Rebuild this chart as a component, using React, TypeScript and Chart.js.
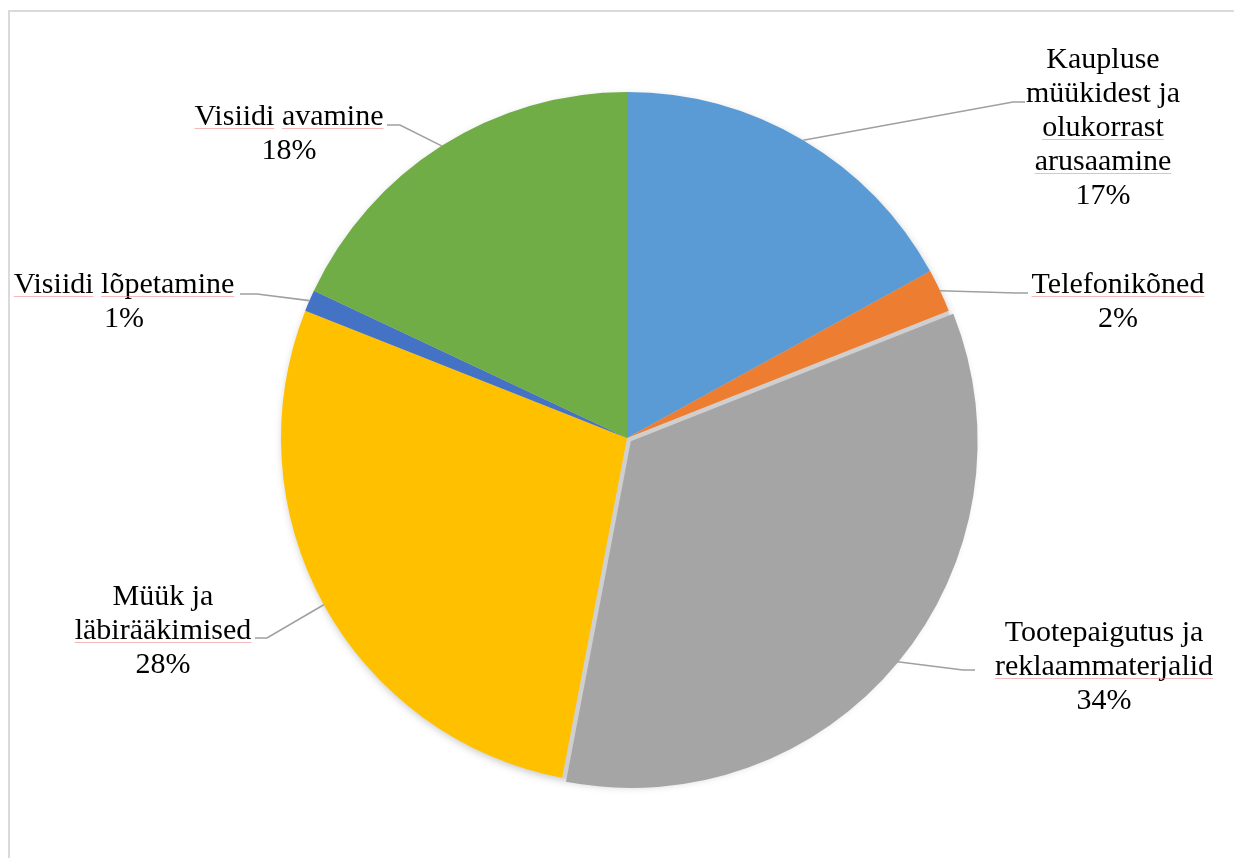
import React, { useEffect, useRef } from "react";
import { Chart, registerables } from "chart.js";

Chart.register(...registerables);

const categories = [
  "Kaupluse müükidest ja olukorrast arusaamine",
  "Telefonikõned",
  "Tootepaigutus ja reklaammaterjalid",
  "Müük ja läbirääkimised",
  "Visiidi lõpetamine",
  "Visiidi avamine",
];
const values = [17, 2, 34, 28, 1, 18];
const percentLabels = ["17%", "2%", "34%", "28%", "1%", "18%"];
const labelLines = [
  ["Kaupluse", "müükidest ja", "olukorrast", "arusaamine"],
  ["Telefonikõned"],
  ["Tootepaigutus ja", "reklaammaterjalid"],
  ["Müük ja", "läbirääkimised"],
  ["Visiidi lõpetamine"],
  ["Visiidi avamine"],
];
const colors = ["#5B9BD5", "#ED7D31", "#A5A5A5", "#FFC000", "#4472C4", "#70AD47"];
const underlinedWords = new Set([
  "olukorrast",
  "arusaamine",
  "Telefonikõned",
  "reklaammaterjalid",
  "läbirääkimised",
  "Visiidi",
  "lõpetamine",
  "avamine",
]);

// label layout: text centre x, first baseline y, leader elbow and end
const labelLayout = [
  { cx: 1103, by: 68, ex: 1013, ey: 102, tx: 1025, ty: 102 },
  { cx: 1118, by: 293, ex: 1016, ey: 293, tx: 1028, ty: 293 },
  { cx: 1104, by: 641, ex: 963, ey: 670, tx: 975, ty: 670 },
  { cx: 163, by: 605, ex: 267, ey: 638, tx: 255, ty: 638 },
  { cx: 124, by: 293, ex: 257, ey: 294, tx: 240, ty: 294 },
  { cx: 289, by: 125, ex: 400, ey: 125, tx: 387, ty: 125 },
];
const LINE_H = 34;
const FONT = '30px "Liberation Serif", "Times New Roman", serif';

const shadowPlugin = {
  id: "pieShadow",
  beforeDatasetsDraw(chart: any) {
    const arc = chart.getDatasetMeta(0).data[0];
    if (!arc) return;
    const { x, y, outerRadius } = arc.getProps(["x", "y", "outerRadius"], true);
    const ctx = chart.ctx;
    ctx.save();
    ctx.shadowColor = "rgba(0,0,0,0.25)";
    ctx.shadowBlur = 9;
    ctx.shadowOffsetX = 1;
    ctx.shadowOffsetY = 3;
    ctx.fillStyle = "#CFCFCF";
    ctx.beginPath();
    ctx.arc(x, y, outerRadius - 1, 0, Math.PI * 2);
    ctx.fill();
    ctx.restore();
  },
};

const labelPlugin = {
  id: "pieLabels",
  afterDatasetsDraw(chart: any) {
    const ctx = chart.ctx;
    const meta = chart.getDatasetMeta(0);
    ctx.save();
    meta.data.forEach((arc: any, i: number) => {
      const { x, y, startAngle, endAngle, outerRadius } = arc.getProps(
        ["x", "y", "startAngle", "endAngle", "outerRadius"],
        true
      );
      const off = (arc.options.offset || 0) / 4;
      const mid = (startAngle + endAngle) / 2;
      const ax = x + Math.cos(mid) * (outerRadius + off);
      const ay = y + Math.sin(mid) * (outerRadius + off);
      const L = labelLayout[i];
      ctx.strokeStyle = "#A0A0A0";
      ctx.lineWidth = 1.6;
      ctx.beginPath();
      ctx.moveTo(ax, ay);
      ctx.lineTo(L.ex, L.ey);
      ctx.lineTo(L.tx, L.ty);
      ctx.stroke();

      const lines = [...labelLines[i], percentLabels[i]];
      ctx.font = FONT;
      ctx.fillStyle = "#000000";
      ctx.textBaseline = "alphabetic";
      ctx.textAlign = "left";
      lines.forEach((line, li) => {
        const by = L.by + li * LINE_H;
        const w = ctx.measureText(line).width;
        const left = L.cx - w / 2;
        ctx.fillText(line, left, by);
        // spell-check style underlines
        const words = line.split(" ");
        let cursor = left;
        const spaceW = ctx.measureText(" ").width;
        words.forEach((word) => {
          const ww = ctx.measureText(word).width;
          if (underlinedWords.has(word)) {
            ctx.strokeStyle = "rgba(236,140,140,0.6)";
            ctx.lineWidth = 1;
            ctx.beginPath();
            ctx.moveTo(cursor, by + 3.5);
            ctx.lineTo(cursor + ww, by + 3.5);
            ctx.stroke();
          }
          cursor += ww + spaceW;
        });
      });
    });
    ctx.restore();
  },
};

export default function App() {
  const ref = useRef<HTMLCanvasElement | null>(null);
  useEffect(() => {
    if (!ref.current) return;
    const chart = new Chart(ref.current, {
      type: "pie",
      data: {
        labels: categories,
        datasets: [
          {
            data: values,
            backgroundColor: colors,
            borderWidth: 0,
            offset: [0, 0, 20, 0, 0, 0],
          },
        ],
      },
      options: {
        responsive: false,
        animation: false,
        radius: 346,
        layout: { padding: { left: 20, right: 0, top: 18, bottom: 0 } },
        plugins: {
          legend: { display: false },
          tooltip: { enabled: false },
        },
      } as any,
      plugins: [shadowPlugin, labelPlugin],
    });
    return () => chart.destroy();
  }, []);
  return (
    <>
      <div
        style={{
          position: "fixed",
          left: 8,
          top: 10,
          width: 1226,
          height: 848,
          borderLeft: "2px solid #DADADA",
          borderTop: "2px solid #DADADA",
          boxSizing: "border-box",
          background: "#fff",
        }}
      />
      <canvas
        ref={ref}
        width={1234}
        height={858}
        style={{ position: "fixed", left: 0, top: 0, width: 1234, height: 858 }}
      />
    </>
  );
}
